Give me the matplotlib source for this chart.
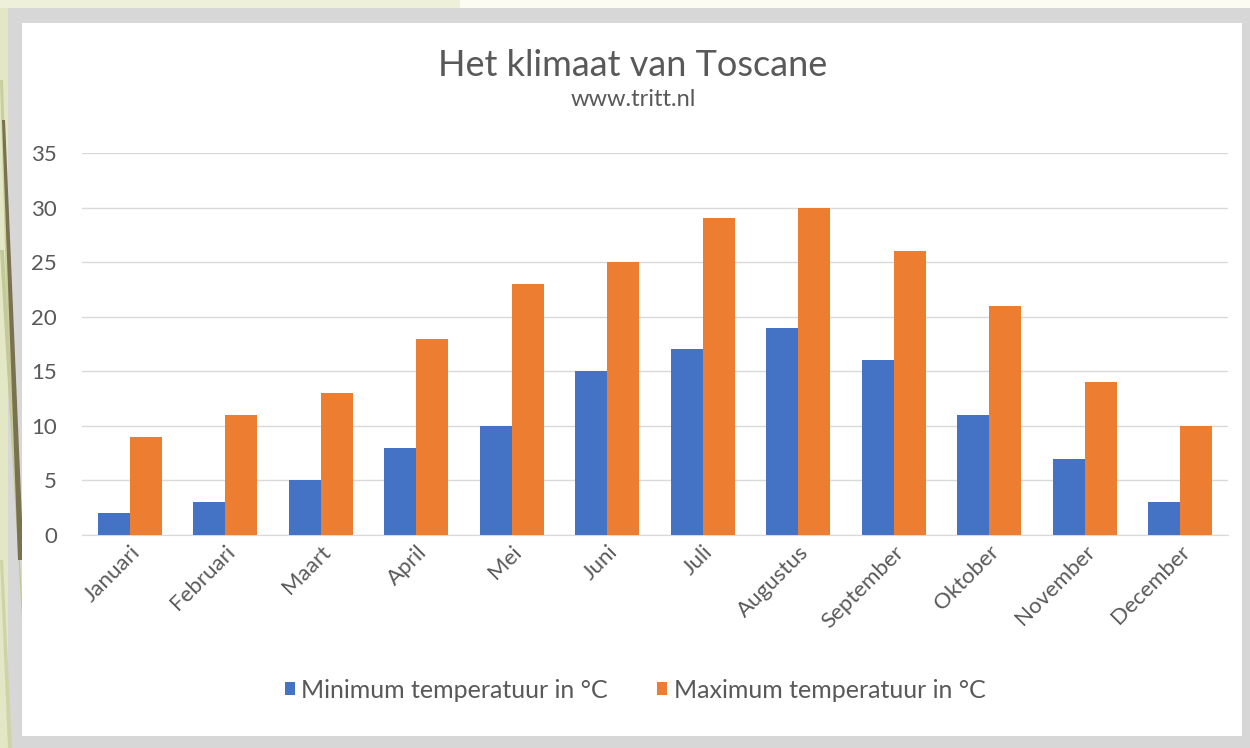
import matplotlib
matplotlib.use("Agg")
import matplotlib.pyplot as plt
import numpy as np
from matplotlib.patches import Rectangle, Polygon

plt.rcParams['font.family'] = ['Lato', 'DejaVu Sans']

months = ["Januari", "Februari", "Maart", "April", "Mei", "Juni", "Juli",
          "Augustus", "September", "Oktober", "November", "December"]
min_temp = [2, 3, 5, 8, 10, 15, 17, 19, 16, 11, 7, 3]
max_temp = [9, 11, 13, 18, 23, 25, 29, 30, 26, 21, 14, 10]
yticks = [0, 5, 10, 15, 20, 25, 30, 35]
series_names = ["Minimum temperatuur in °C", "Maximum temperatuur in °C"]
colors = ["#4472C4", "#ED7D31"]

W, H = 1250, 748
fig = plt.figure(figsize=(W / 100, H / 100), dpi=100)
fig.patch.set_facecolor("#fcfcf3")

def px_rect(x0, y0, x1, y1, color, z=0):
    fig.patches.append(Rectangle((x0 / W, 1 - y1 / H), (x1 - x0) / W, (y1 - y0) / H,
                                 transform=fig.transFigure, facecolor=color,
                                 edgecolor="none", zorder=z))

def px_poly(pts, color, z=0):
    fig.patches.append(Polygon([(x / W, 1 - y / H) for x, y in pts], closed=True,
                               transform=fig.transFigure, facecolor=color,
                               edgecolor="none", zorder=z))

# olive left strip and decorations
px_rect(0, 0, 24, H, "#e3e7c6", z=0)
px_rect(0, 0, 460, 8, "#eef0da", z=0)
px_rect(8, 8, W, H, "#d7d7d7", z=1)
px_rect(22, 23, 1242, 736, "#ffffff", z=2)
# decorative diagonal lines in left margin
px_poly([(0, 80), (3, 80), (14, 420), (10, 420)], "#c9cf9f", z=1.5)
px_poly([(0, 250), (4, 250), (22, 600), (22, 620)], "#c4c99a", z=1.5)
px_poly([(2, 120), (5, 120), (22, 520), (22, 560), (18, 560)], "#7a714e", z=3)
px_poly([(0, 560), (3, 560), (12, 748), (8, 748)], "#cfd4a8", z=1.5)

ax = fig.add_axes([82 / W, 1 - 535 / H, (1228 - 82) / W, (535 - 153) / H])
ax.set_zorder(5)
ax.patch.set_alpha(0)

x = np.arange(len(months))
bw = 0.335
ax.bar(x - bw / 2, min_temp, bw, color=colors[0], label=series_names[0], zorder=3)
ax.bar(x + bw / 2, max_temp, bw, color=colors[1], label=series_names[1], zorder=3)

ax.set_xlim(-0.5, len(months) - 0.5)
ax.set_ylim(0, 35)
ax.set_yticks(yticks)
ax.set_yticklabels([str(v) for v in yticks], fontsize=16, color="#595959")
ax.yaxis.grid(True, color="#d9d9d9", linewidth=1.0, zorder=0)
ax.tick_params(axis="y", length=0, pad=18)
ax.tick_params(axis="x", length=0, pad=5)
ax.set_xticks(x)
ax.set_xticklabels(months, rotation=45, ha="right", rotation_mode="anchor",
                   fontsize=16, color="#595959")
for s in ["top", "right", "left"]:
    ax.spines[s].set_visible(False)
ax.spines["bottom"].set_color("#d9d9d9")

fig.text(633 / W, 1 - 65 / H, "Het klimaat van Toscane", ha="center", va="center",
         fontsize=26, color="#595959", zorder=6)
fig.text(633 / W, 1 - 100 / H, "www.tritt.nl", ha="center", va="center",
         fontsize=17, color="#595959", zorder=6)

handles, labels = ax.get_legend_handles_labels()
leg = fig.legend(handles, labels, loc="center", bbox_to_anchor=(635 / W, 1 - 690 / H),
                 ncol=2, frameon=False, fontsize=18, handlelength=0.4,
                 handleheight=0.4, handletextpad=0.25, columnspacing=2.0)
for t in leg.get_texts():
    t.set_color("#595959")
leg.set_zorder(6)

fig.savefig("out.png", dpi=100, facecolor=fig.get_facecolor())
